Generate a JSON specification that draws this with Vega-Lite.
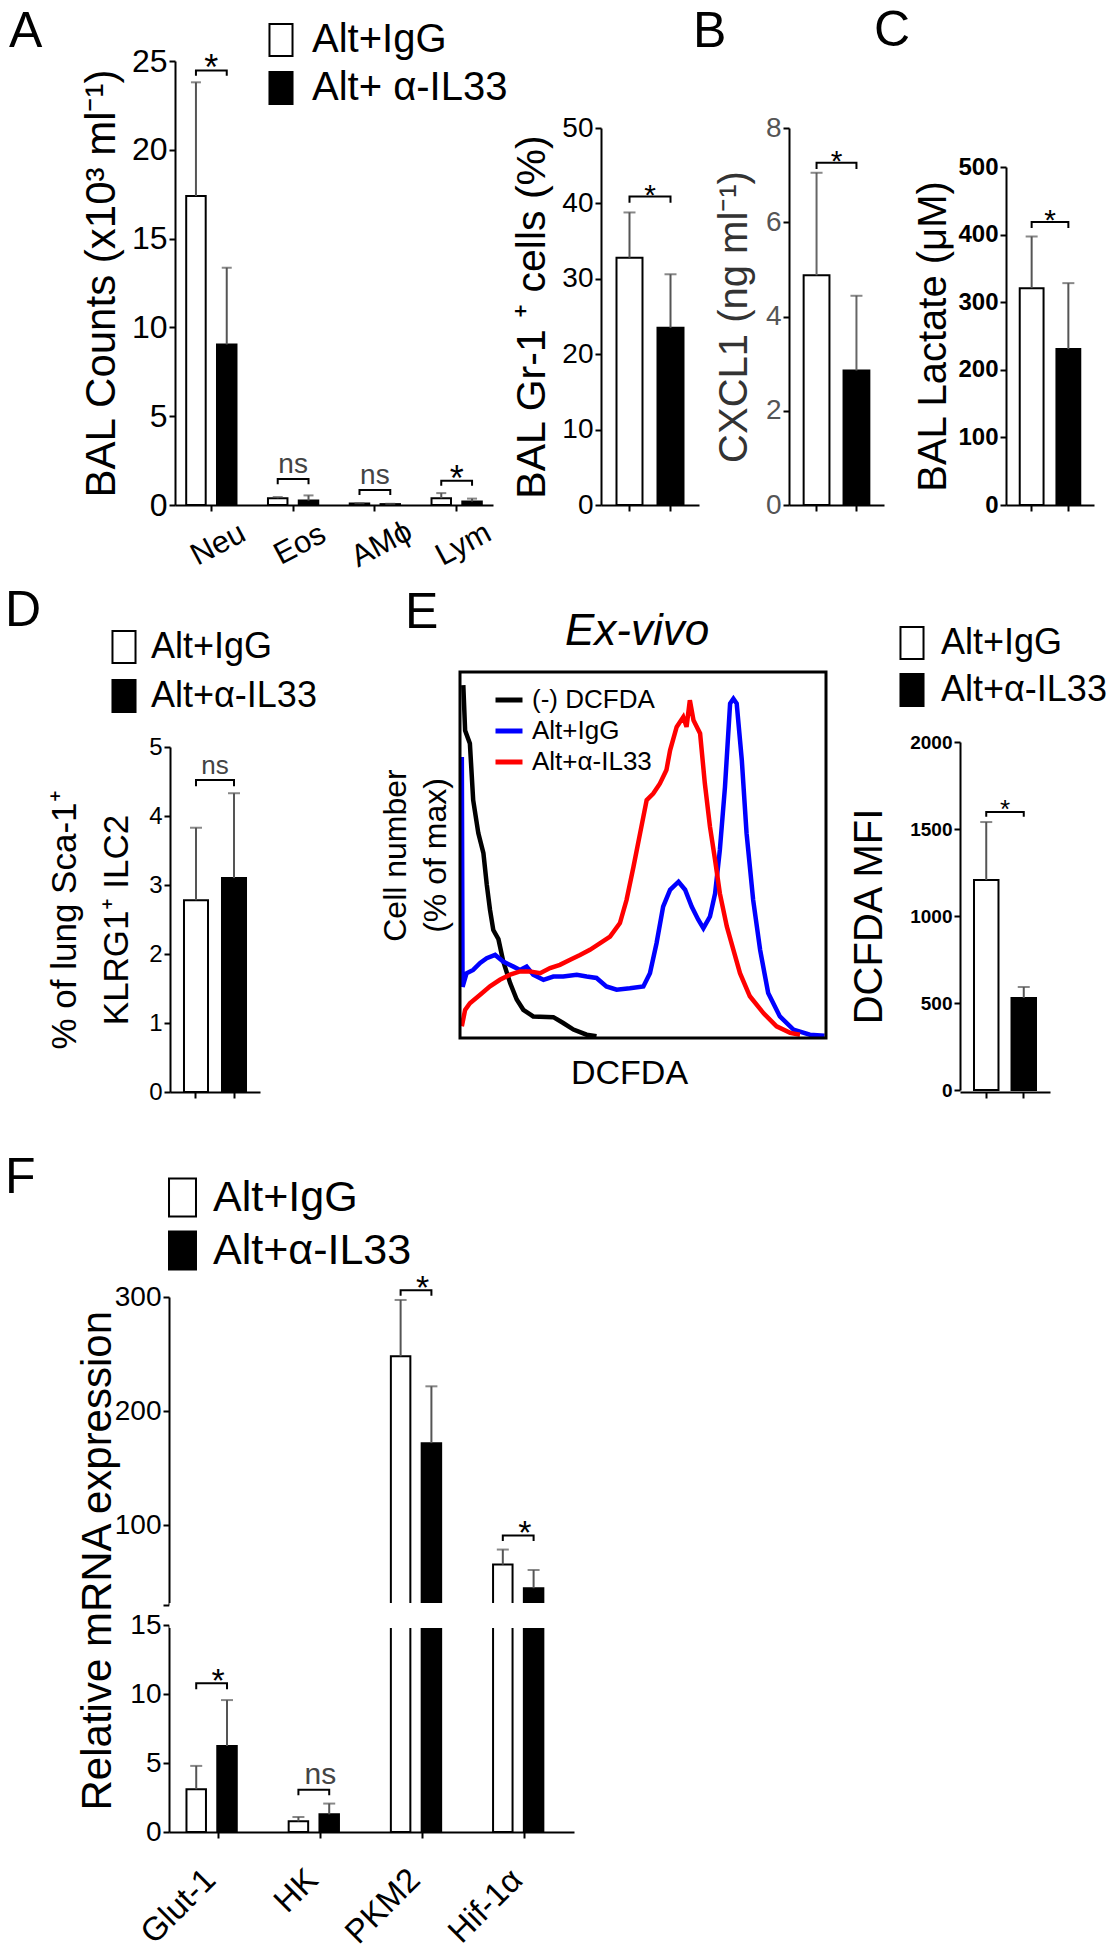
{
"$schema": "https://vega.github.io/schema/vega-lite/v6.json",
"padding": 0,
"background": "white",
"columns": 9,
"spacing": {"row": 20, "column": 0},
"bounds": "flush",
"align": "each",
"resolve": {"scale": {"fill": "independent", "stroke": "independent"}, "legend": {"fill": "independent", "stroke": "independent"}},
"config": {
  "font": "Liberation Sans",
  "view": {"stroke": null},
  "axis": {"domainColor": "black", "domainWidth": 2, "tickColor": "black", "tickWidth": 2, "tickSize": 6, "labelColor": "black", "titleColor": "black", "labelPadding": 2, "grid": false, "titleFontWeight": "normal", "labelFontWeight": "normal", "minExtent": 0},
  "legend": {"labelColor": "black"},
  "title": {"color": "black"}
},
"datasets": {
  "bars_A": [
    {"cat": "Neu", "grp": "Alt+IgG", "v": 17.4, "e": 23.8},
    {"cat": "Neu", "grp": "Alt+α-IL33", "v": 9.04, "e": 13.36},
    {"cat": "Eos", "grp": "Alt+IgG", "v": 0.38, "e": 0.45},
    {"cat": "Eos", "grp": "Alt+α-IL33", "v": 0.25, "e": 0.54},
    {"cat": "AMϕ", "grp": "Alt+IgG", "v": 0.08, "e": 0.1},
    {"cat": "AMϕ", "grp": "Alt+α-IL33", "v": 0.05, "e": 0.07},
    {"cat": "Lym", "grp": "Alt+IgG", "v": 0.38, "e": 0.67},
    {"cat": "Lym", "grp": "Alt+α-IL33", "v": 0.2, "e": 0.36}
  ],
  "br_A": [
    {"cat": "Neu", "grp": "Alt+IgG", "y": 24.17, "o": 1},
    {"cat": "Neu", "grp": "Alt+IgG", "y": 24.47, "o": 2},
    {"cat": "Neu", "grp": "Alt+α-IL33", "y": 24.47, "o": 3},
    {"cat": "Neu", "grp": "Alt+α-IL33", "y": 24.17, "o": 4},
    {"cat": "Eos", "grp": "Alt+IgG", "y": 1.17, "o": 1},
    {"cat": "Eos", "grp": "Alt+IgG", "y": 1.47, "o": 2},
    {"cat": "Eos", "grp": "Alt+α-IL33", "y": 1.47, "o": 3},
    {"cat": "Eos", "grp": "Alt+α-IL33", "y": 1.17, "o": 4},
    {"cat": "AMϕ", "grp": "Alt+IgG", "y": 0.56, "o": 1},
    {"cat": "AMϕ", "grp": "Alt+IgG", "y": 0.85, "o": 2},
    {"cat": "AMϕ", "grp": "Alt+α-IL33", "y": 0.85, "o": 3},
    {"cat": "AMϕ", "grp": "Alt+α-IL33", "y": 0.56, "o": 4},
    {"cat": "Lym", "grp": "Alt+IgG", "y": 1.09, "o": 1},
    {"cat": "Lym", "grp": "Alt+IgG", "y": 1.37, "o": 2},
    {"cat": "Lym", "grp": "Alt+α-IL33", "y": 1.37, "o": 3},
    {"cat": "Lym", "grp": "Alt+α-IL33", "y": 1.09, "o": 4}
  ],
  "sig_A": [
    {"cat": "Neu", "y": 24.47, "t": "*"},
    {"cat": "Eos", "y": 1.47, "t": "ns"},
    {"cat": "AMϕ", "y": 0.85, "t": "ns"},
    {"cat": "Lym", "y": 1.37, "t": "*"}
  ],
  "bars_B1": [{"grp": "Alt+IgG", "v": 32.8, "e": 38.8}, {"grp": "Alt+α-IL33", "v": 23.5, "e": 30.6}],
  "br_B1": [{"grp": "Alt+IgG", "y": 40.1, "o": 1}, {"grp": "Alt+IgG", "y": 40.9, "o": 2}, {"grp": "Alt+α-IL33", "y": 40.9, "o": 3}, {"grp": "Alt+α-IL33", "y": 40.1, "o": 4}],
  "sig_B1": [{"grp": "Alt+IgG", "y": 40.9, "t": "*"}],
  "bars_B2": [{"grp": "Alt+IgG", "v": 4.875, "e": 7.05}, {"grp": "Alt+α-IL33", "v": 2.855, "e": 4.44}],
  "br_B2": [{"grp": "Alt+IgG", "y": 7.13, "o": 1}, {"grp": "Alt+IgG", "y": 7.26, "o": 2}, {"grp": "Alt+α-IL33", "y": 7.26, "o": 3}, {"grp": "Alt+α-IL33", "y": 7.13, "o": 4}],
  "sig_B2": [{"grp": "Alt+IgG", "y": 7.26, "t": "*"}],
  "bars_C": [{"grp": "Alt+IgG", "v": 320.8, "e": 397.2}, {"grp": "Alt+α-IL33", "v": 230.6, "e": 328.2}],
  "br_C": [{"grp": "Alt+IgG", "y": 409.9, "o": 1}, {"grp": "Alt+IgG", "y": 418.5, "o": 2}, {"grp": "Alt+α-IL33", "y": 418.5, "o": 3}, {"grp": "Alt+α-IL33", "y": 409.9, "o": 4}],
  "sig_C": [{"grp": "Alt+IgG", "y": 418.5, "t": "*"}],
  "bars_D": [{"grp": "Alt+IgG", "v": 2.78, "e": 3.83}, {"grp": "Alt+α-IL33", "v": 3.1, "e": 4.33}],
  "br_D": [{"grp": "Alt+IgG", "y": 4.43, "o": 1}, {"grp": "Alt+IgG", "y": 4.52, "o": 2}, {"grp": "Alt+α-IL33", "y": 4.52, "o": 3}, {"grp": "Alt+α-IL33", "y": 4.43, "o": 4}],
  "sig_D": [{"grp": "Alt+IgG", "y": 4.52, "t": "ns"}],
  "bars_E": [{"grp": "Alt+IgG", "v": 1207, "e": 1540}, {"grp": "Alt+α-IL33", "v": 529, "e": 592}],
  "br_E": [{"grp": "Alt+IgG", "y": 1570, "o": 1}, {"grp": "Alt+IgG", "y": 1598, "o": 2}, {"grp": "Alt+α-IL33", "y": 1598, "o": 3}, {"grp": "Alt+α-IL33", "y": 1570, "o": 4}],
  "sig_E": [{"grp": "Alt+IgG", "y": 1598, "t": "*"}],
  "hist": [
    {"s": "(-) DCFDA", "x": 0.9, "y": 96.4}, {"s": "(-) DCFDA", "x": 1.4, "y": 84}, {"s": "(-) DCFDA", "x": 2.7, "y": 80.5}, {"s": "(-) DCFDA", "x": 3.6, "y": 65}, {"s": "(-) DCFDA", "x": 5, "y": 56}, {"s": "(-) DCFDA", "x": 6.4, "y": 50.5}, {"s": "(-) DCFDA", "x": 7.3, "y": 42}, {"s": "(-) DCFDA", "x": 8.2, "y": 35}, {"s": "(-) DCFDA", "x": 9.1, "y": 29.5}, {"s": "(-) DCFDA", "x": 10.5, "y": 27}, {"s": "(-) DCFDA", "x": 11.8, "y": 21}, {"s": "(-) DCFDA", "x": 13.7, "y": 15}, {"s": "(-) DCFDA", "x": 15.5, "y": 10.5}, {"s": "(-) DCFDA", "x": 17.3, "y": 7.7}, {"s": "(-) DCFDA", "x": 20, "y": 5.9}, {"s": "(-) DCFDA", "x": 25.5, "y": 5.7}, {"s": "(-) DCFDA", "x": 28.2, "y": 4.1}, {"s": "(-) DCFDA", "x": 31, "y": 2.3}, {"s": "(-) DCFDA", "x": 34.6, "y": 0.9}, {"s": "(-) DCFDA", "x": 37.3, "y": 0.5},
    {"s": "Alt+IgG", "x": 0.5, "y": 76.8}, {"s": "Alt+IgG", "x": 0.7, "y": 14}, {"s": "Alt+IgG", "x": 1.8, "y": 17.7}, {"s": "Alt+IgG", "x": 3.6, "y": 18.6}, {"s": "Alt+IgG", "x": 5.5, "y": 20.5}, {"s": "Alt+IgG", "x": 7.3, "y": 21.8}, {"s": "Alt+IgG", "x": 9.6, "y": 22.7}, {"s": "Alt+IgG", "x": 11.8, "y": 20.9}, {"s": "Alt+IgG", "x": 14.6, "y": 19.5}, {"s": "Alt+IgG", "x": 16.4, "y": 18.6}, {"s": "Alt+IgG", "x": 18.2, "y": 19.5}, {"s": "Alt+IgG", "x": 20, "y": 17.3}, {"s": "Alt+IgG", "x": 22.8, "y": 15.9}, {"s": "Alt+IgG", "x": 25.5, "y": 16.8}, {"s": "Alt+IgG", "x": 28.2, "y": 16.8}, {"s": "Alt+IgG", "x": 31.9, "y": 17.3}, {"s": "Alt+IgG", "x": 34.6, "y": 16.8}, {"s": "Alt+IgG", "x": 37.3, "y": 16.4}, {"s": "Alt+IgG", "x": 40, "y": 14.1}, {"s": "Alt+IgG", "x": 42.8, "y": 13.2}, {"s": "Alt+IgG", "x": 46.4, "y": 13.6}, {"s": "Alt+IgG", "x": 50.1, "y": 14.1}, {"s": "Alt+IgG", "x": 51.9, "y": 17.7}, {"s": "Alt+IgG", "x": 53.7, "y": 25.9}, {"s": "Alt+IgG", "x": 55.5, "y": 35.9}, {"s": "Alt+IgG", "x": 57.4, "y": 40.5}, {"s": "Alt+IgG", "x": 59.7, "y": 42.7}, {"s": "Alt+IgG", "x": 61.5, "y": 40.5}, {"s": "Alt+IgG", "x": 63.3, "y": 35.9}, {"s": "Alt+IgG", "x": 65.1, "y": 32.3}, {"s": "Alt+IgG", "x": 66.5, "y": 30}, {"s": "Alt+IgG", "x": 68.3, "y": 33.2}, {"s": "Alt+IgG", "x": 69.7, "y": 39.5}, {"s": "Alt+IgG", "x": 71, "y": 51.4}, {"s": "Alt+IgG", "x": 72.4, "y": 68.6}, {"s": "Alt+IgG", "x": 73.8, "y": 91.4}, {"s": "Alt+IgG", "x": 74.7, "y": 92.7}, {"s": "Alt+IgG", "x": 75.6, "y": 91.4}, {"s": "Alt+IgG", "x": 77, "y": 75.9}, {"s": "Alt+IgG", "x": 78.3, "y": 55.9}, {"s": "Alt+IgG", "x": 80.1, "y": 37.7}, {"s": "Alt+IgG", "x": 82, "y": 24.1}, {"s": "Alt+IgG", "x": 84.2, "y": 12.3}, {"s": "Alt+IgG", "x": 87.4, "y": 5.9}, {"s": "Alt+IgG", "x": 91.1, "y": 2.3}, {"s": "Alt+IgG", "x": 95.6, "y": 0.9}, {"s": "Alt+IgG", "x": 99.6, "y": 0.6},
    {"s": "Alt+α-IL33", "x": 0.5, "y": 3.2}, {"s": "Alt+α-IL33", "x": 1.4, "y": 7.7}, {"s": "Alt+α-IL33", "x": 2.7, "y": 9.5}, {"s": "Alt+α-IL33", "x": 5.5, "y": 11.8}, {"s": "Alt+α-IL33", "x": 8.2, "y": 14.1}, {"s": "Alt+α-IL33", "x": 10.9, "y": 15.9}, {"s": "Alt+α-IL33", "x": 13.7, "y": 17.3}, {"s": "Alt+α-IL33", "x": 16.4, "y": 18.2}, {"s": "Alt+α-IL33", "x": 19.1, "y": 18.2}, {"s": "Alt+α-IL33", "x": 21.9, "y": 17.7}, {"s": "Alt+α-IL33", "x": 24.6, "y": 19.1}, {"s": "Alt+α-IL33", "x": 27.3, "y": 20}, {"s": "Alt+α-IL33", "x": 30.1, "y": 21.4}, {"s": "Alt+α-IL33", "x": 32.8, "y": 22.7}, {"s": "Alt+α-IL33", "x": 35.5, "y": 24.1}, {"s": "Alt+α-IL33", "x": 38.3, "y": 25.9}, {"s": "Alt+α-IL33", "x": 41, "y": 27.7}, {"s": "Alt+α-IL33", "x": 43.7, "y": 31.4}, {"s": "Alt+α-IL33", "x": 45.5, "y": 37.7}, {"s": "Alt+α-IL33", "x": 47.4, "y": 46.8}, {"s": "Alt+α-IL33", "x": 49.2, "y": 55.9}, {"s": "Alt+α-IL33", "x": 51, "y": 65}, {"s": "Alt+α-IL33", "x": 52.8, "y": 66.8}, {"s": "Alt+α-IL33", "x": 54.6, "y": 69.5}, {"s": "Alt+α-IL33", "x": 56.4, "y": 73.2}, {"s": "Alt+α-IL33", "x": 57.4, "y": 78.6}, {"s": "Alt+α-IL33", "x": 59.2, "y": 85}, {"s": "Alt+α-IL33", "x": 61, "y": 87.7}, {"s": "Alt+α-IL33", "x": 61.9, "y": 85}, {"s": "Alt+α-IL33", "x": 62.8, "y": 92.3}, {"s": "Alt+α-IL33", "x": 63.8, "y": 86.8}, {"s": "Alt+α-IL33", "x": 65.6, "y": 83.2}, {"s": "Alt+α-IL33", "x": 66.9, "y": 69.5}, {"s": "Alt+α-IL33", "x": 68.3, "y": 57.7}, {"s": "Alt+α-IL33", "x": 69.7, "y": 48.6}, {"s": "Alt+α-IL33", "x": 71, "y": 39.5}, {"s": "Alt+α-IL33", "x": 72.9, "y": 30.5}, {"s": "Alt+α-IL33", "x": 74.7, "y": 24.1}, {"s": "Alt+α-IL33", "x": 76.5, "y": 17.7}, {"s": "Alt+α-IL33", "x": 79.2, "y": 11.4}, {"s": "Alt+α-IL33", "x": 82.9, "y": 6.8}, {"s": "Alt+α-IL33", "x": 86.5, "y": 3.2}, {"s": "Alt+α-IL33", "x": 90.2, "y": 1.4}, {"s": "Alt+α-IL33", "x": 92.9, "y": 0.9}
  ],
  "bars_F": [
    {"cat": "Glut-1", "grp": "Alt+IgG", "v": 3.1, "e": 4.79},
    {"cat": "Glut-1", "grp": "Alt+α-IL33", "v": 6.24, "e": 9.56},
    {"cat": "HK", "grp": "Alt+IgG", "v": 0.77, "e": 1.09},
    {"cat": "HK", "grp": "Alt+α-IL33", "v": 1.28, "e": 2.06},
    {"cat": "PKM2", "grp": "Alt+IgG", "v": 248, "e": 297.4},
    {"cat": "PKM2", "grp": "Alt+α-IL33", "v": 171.9, "e": 221.7},
    {"cat": "Hif-1α", "grp": "Alt+IgG", "v": 65.4, "e": 78.6},
    {"cat": "Hif-1α", "grp": "Alt+α-IL33", "v": 44.7, "e": 60.7}
  ],
  "br_Fl": [
    {"cat": "Glut-1", "grp": "Alt+IgG", "y": 10.35, "o": 1}, {"cat": "Glut-1", "grp": "Alt+IgG", "y": 10.77, "o": 2}, {"cat": "Glut-1", "grp": "Alt+α-IL33", "y": 10.77, "o": 3}, {"cat": "Glut-1", "grp": "Alt+α-IL33", "y": 10.35, "o": 4},
    {"cat": "HK", "grp": "Alt+IgG", "y": 2.66, "o": 1}, {"cat": "HK", "grp": "Alt+IgG", "y": 3.07, "o": 2}, {"cat": "HK", "grp": "Alt+α-IL33", "y": 3.07, "o": 3}, {"cat": "HK", "grp": "Alt+α-IL33", "y": 2.66, "o": 4}
  ],
  "br_Fu": [
    {"cat": "PKM2", "grp": "Alt+IgG", "y": 301, "o": 1}, {"cat": "PKM2", "grp": "Alt+IgG", "y": 306, "o": 2}, {"cat": "PKM2", "grp": "Alt+α-IL33", "y": 306, "o": 3}, {"cat": "PKM2", "grp": "Alt+α-IL33", "y": 301, "o": 4},
    {"cat": "Hif-1α", "grp": "Alt+IgG", "y": 86, "o": 1}, {"cat": "Hif-1α", "grp": "Alt+IgG", "y": 91, "o": 2}, {"cat": "Hif-1α", "grp": "Alt+α-IL33", "y": 91, "o": 3}, {"cat": "Hif-1α", "grp": "Alt+α-IL33", "y": 86, "o": 4}
  ],
  "sig_Fl": [{"cat": "Glut-1", "y": 10.77, "t": "*"}, {"cat": "HK", "y": 3.07, "t": "ns"}],
  "sig_Fu": [{"cat": "PKM2", "y": 306, "t": "*"}, {"cat": "Hif-1α", "y": 91, "t": "*"}]
},
"concat": [
  {"width": 169, "height": 41, "data": {"values": []}, "mark": "point"},
  {"width": 1, "height": 1, "data": {"values": []}, "mark": "point"},
  {"width": 5, "height": 1, "data": {"values": []}, "mark": "point"},
  {"width": 285, "height": 1, "data": {"values": []}, "mark": "point"},
  {"width": 141, "height": 1, "data": {"values": []}, "mark": "point"},
  {"width": 188, "height": 1, "data": {"values": []}, "mark": "point"},
  {"width": 171, "height": 1, "data": {"values": []}, "mark": "point"},
  {"width": 46, "height": 1, "data": {"values": []}, "mark": "point"},
  {"width": 88, "height": 1, "data": {"values": []}, "mark": "point"},

  {"width": 1, "height": 591, "data": {"values": []}, "mark": "point",
   "title": {"text": "A", "anchor": "start", "frame": "group", "dx": 9, "offset": -36, "fontSize": 50, "fontWeight": "normal", "baseline": "alphabetic"}},
  {"width": 1, "height": 1, "data": {"values": []}, "mark": "point"},
  {"width": 1, "height": 1, "data": {"values": []}, "mark": "point"},
  {
    "width": 285, "height": 444,
    "layer": [
      {"data": {"name": "bars_A"}, "mark": {"type": "bar", "stroke": "black", "strokeWidth": 2},
       "encoding": {
         "x": {"field": "cat", "type": "nominal", "scale": {"domain": ["Neu", "Eos", "AMϕ", "Lym"], "range": [0, 318], "paddingInner": 0.385, "paddingOuter": 0.137},
               "axis": {"title": null, "labelAngle": -28, "labelAlign": "center", "labelBaseline": "top", "labelFontSize": 31, "labelPadding": 20}},
         "xOffset": {"field": "grp", "type": "nominal", "scale": {"domain": ["Alt+IgG", "Alt+α-IL33"], "paddingInner": 0.367, "paddingOuter": 0}},
         "y": {"field": "v", "type": "quantitative", "scale": {"domain": [0, 25], "range": [444, 0], "nice": false},
               "axis": {"values": [0, 5, 10, 15, 20, 25], "format": "d", "title": "BAL Counts (x10³ ml⁻¹)", "titleFontSize": 42, "labelFontSize": 32, "titlePadding": 8}},
         "fill": {"field": "grp", "type": "nominal", "scale": {"domain": ["Alt+IgG", "Alt+α-IL33"], "range": ["white", "black"]},
                  "legend": {"orient": "none", "legendX": 86, "legendY": -41, "title": null, "padding": 0, "labelFontSize": 40, "labelLimit": 400, "symbolType": "M-0.72,-1H0.72V1H-0.72Z", "symbolSize": 1024, "symbolStrokeColor": "black", "symbolStrokeWidth": 2, "rowPadding": 8, "labelOffset": 11, "labelExpr": "datum.label == 'Alt+α-IL33' ? 'Alt+ α-IL33' : datum.label"}}
       }},
      {"data": {"name": "bars_A"}, "mark": {"type": "rule", "color": "#555", "strokeWidth": 2},
       "encoding": {"x": {"field": "cat", "type": "nominal"}, "xOffset": {"field": "grp", "type": "nominal"}, "y": {"field": "v", "type": "quantitative"}, "y2": {"field": "e"}}},
      {"data": {"name": "bars_A"}, "mark": {"type": "tick", "color": "#555", "thickness": 2, "size": 10},
       "encoding": {"x": {"field": "cat", "type": "nominal"}, "xOffset": {"field": "grp", "type": "nominal"}, "y": {"field": "e", "type": "quantitative"}}},
      {"data": {"name": "br_A"}, "mark": {"type": "line", "color": "black", "strokeWidth": 2},
       "encoding": {"x": {"field": "cat", "type": "nominal"}, "xOffset": {"field": "grp", "type": "nominal"}, "y": {"field": "y", "type": "quantitative"}, "detail": {"field": "cat"}, "order": {"field": "o"}}},
      {"data": {"name": "sig_A"}, "transform": [{"filter": "datum.t == '*'"}], "mark": {"type": "text", "fontSize": 36, "dy": 10, "baseline": "alphabetic", "color": "black"},
       "encoding": {"x": {"field": "cat", "type": "nominal"}, "y": {"field": "y", "type": "quantitative"}, "text": {"field": "t"}}},
      {"data": {"name": "sig_A"}, "transform": [{"filter": "datum.t == 'ns'"}], "mark": {"type": "text", "fontSize": 28, "dy": -6, "baseline": "alphabetic", "color": "#444"},
       "encoding": {"x": {"field": "cat", "type": "nominal"}, "y": {"field": "y", "type": "quantitative"}, "text": {"field": "t"}}}
    ]
  },
  {"width": 1, "height": 1, "data": {"values": []}, "mark": "point",
   "title": {"text": "B", "anchor": "start", "frame": "group", "dx": 233, "offset": -36, "fontSize": 50, "fontWeight": "normal", "baseline": "alphabetic"}},
  {
    "width": 188, "height": 444,
    "layer": [
      {"data": {"name": "bars_B1"}, "mark": {"type": "bar", "stroke": "black", "strokeWidth": 2},
       "encoding": {
         "x": {"field": "grp", "type": "nominal", "scale": {"domain": ["Alt+IgG", "Alt+α-IL33"], "range": [0, 98], "paddingInner": 0.366, "paddingOuter": 0.378}, "axis": {"labels": false, "title": null}},
         "y": {"field": "v", "type": "quantitative", "scale": {"domain": [0, 50], "range": [444, 67], "nice": false}, "axis": {"values": [0, 10, 20, 30, 40, 50], "format": "d", "title": "BAL Gr-1 ⁺ cells (%)", "titleFontSize": 41, "labelFontSize": 28, "titlePadding": 8}},
         "fill": {"field": "grp", "type": "nominal", "scale": {"domain": ["Alt+IgG", "Alt+α-IL33"], "range": ["white", "black"]}, "legend": null}
       }},
      {"data": {"name": "bars_B1"}, "mark": {"type": "rule", "color": "#555", "strokeWidth": 2},
       "encoding": {"x": {"field": "grp", "type": "nominal"}, "y": {"field": "v", "type": "quantitative"}, "y2": {"field": "e"}}},
      {"data": {"name": "bars_B1"}, "mark": {"type": "tick", "color": "#555", "thickness": 2, "size": 12},
       "encoding": {"x": {"field": "grp", "type": "nominal"}, "y": {"field": "e", "type": "quantitative"}}},
      {"data": {"name": "br_B1"}, "mark": {"type": "line", "color": "black", "strokeWidth": 2},
       "encoding": {"x": {"field": "grp", "type": "nominal"}, "y": {"field": "y", "type": "quantitative"}, "order": {"field": "o"}}},
      {"data": {"name": "sig_B1"}, "mark": {"type": "text", "fontSize": 30, "dx": 20.5, "dy": 8, "baseline": "alphabetic", "color": "black"},
       "encoding": {"x": {"field": "grp", "type": "nominal"}, "y": {"field": "y", "type": "quantitative"}, "text": {"field": "t"}}}
    ]
  },
  {
    "width": 171, "height": 444,
    "layer": [
      {"data": {"name": "bars_B2"}, "mark": {"type": "bar", "stroke": "black", "strokeWidth": 2},
       "encoding": {
         "x": {"field": "grp", "type": "nominal", "scale": {"domain": ["Alt+IgG", "Alt+α-IL33"], "range": [0, 95], "paddingInner": 0.353, "paddingOuter": 0.367}, "axis": {"labels": false, "title": null}},
         "y": {"field": "v", "type": "quantitative", "scale": {"domain": [0, 8], "range": [444, 67], "nice": false}, "axis": {"values": [0, 2, 4, 6, 8], "format": "d", "title": "CXCL1 (ng ml⁻¹)", "titleFontSize": 40, "labelFontSize": 28, "titlePadding": 11, "labelColor": "#555", "titleColor": "#333"}},
         "fill": {"field": "grp", "type": "nominal", "scale": {"domain": ["Alt+IgG", "Alt+α-IL33"], "range": ["white", "black"]}, "legend": null}
       }},
      {"data": {"name": "bars_B2"}, "mark": {"type": "rule", "color": "#666", "strokeWidth": 2},
       "encoding": {"x": {"field": "grp", "type": "nominal"}, "y": {"field": "v", "type": "quantitative"}, "y2": {"field": "e"}}},
      {"data": {"name": "bars_B2"}, "mark": {"type": "tick", "color": "#555", "thickness": 2, "size": 12},
       "encoding": {"x": {"field": "grp", "type": "nominal"}, "y": {"field": "e", "type": "quantitative"}}},
      {"data": {"name": "br_B2"}, "mark": {"type": "line", "color": "black", "strokeWidth": 2},
       "encoding": {"x": {"field": "grp", "type": "nominal"}, "y": {"field": "y", "type": "quantitative"}, "order": {"field": "o"}}},
      {"data": {"name": "sig_B2"}, "mark": {"type": "text", "fontSize": 30, "dx": 20, "dy": 8, "baseline": "alphabetic", "color": "black"},
       "encoding": {"x": {"field": "grp", "type": "nominal"}, "y": {"field": "y", "type": "quantitative"}, "text": {"field": "t"}}}
    ]
  },
  {"width": 1, "height": 1, "data": {"values": []}, "mark": "point",
   "title": {"text": "C", "anchor": "start", "frame": "group", "dx": -86, "offset": -35, "fontSize": 50, "fontWeight": "normal", "baseline": "alphabetic"}},
  {
    "width": 88, "height": 444,
    "layer": [
      {"data": {"name": "bars_C"}, "mark": {"type": "bar", "stroke": "black", "strokeWidth": 2},
       "encoding": {
         "x": {"field": "grp", "type": "nominal", "scale": {"domain": ["Alt+IgG", "Alt+α-IL33"], "range": [0, 88], "paddingInner": 0.351, "paddingOuter": 0.374}, "axis": {"labels": false, "title": null}},
         "y": {"field": "v", "type": "quantitative", "scale": {"domain": [0, 500], "range": [444, 106], "nice": false}, "axis": {"values": [0, 100, 200, 300, 400, 500], "format": "d", "title": "BAL Lactate (μM)", "titleFontSize": 40, "labelFontSize": 24, "labelFontWeight": "bold", "titlePadding": 4}},
         "fill": {"field": "grp", "type": "nominal", "scale": {"domain": ["Alt+IgG", "Alt+α-IL33"], "range": ["white", "black"]}, "legend": null}
       }},
      {"data": {"name": "bars_C"}, "mark": {"type": "rule", "color": "#555", "strokeWidth": 2},
       "encoding": {"x": {"field": "grp", "type": "nominal"}, "y": {"field": "v", "type": "quantitative"}, "y2": {"field": "e"}}},
      {"data": {"name": "bars_C"}, "mark": {"type": "tick", "color": "#555", "thickness": 2, "size": 12},
       "encoding": {"x": {"field": "grp", "type": "nominal"}, "y": {"field": "e", "type": "quantitative"}}},
      {"data": {"name": "br_C"}, "mark": {"type": "line", "color": "black", "strokeWidth": 2},
       "encoding": {"x": {"field": "grp", "type": "nominal"}, "y": {"field": "y", "type": "quantitative"}, "order": {"field": "o"}}},
      {"data": {"name": "sig_C"}, "mark": {"type": "text", "fontSize": 30, "dx": 18.4, "dy": 8, "baseline": "alphabetic", "color": "black"},
       "encoding": {"x": {"field": "grp", "type": "nominal"}, "y": {"field": "y", "type": "quantitative"}, "text": {"field": "t"}}}
    ]
  },

  {"width": 1, "height": 605, "data": {"values": []}, "mark": "point",
   "title": {"text": "D", "anchor": "start", "frame": "group", "dx": 5, "offset": -4, "fontSize": 50, "fontWeight": "normal", "baseline": "alphabetic"}},
  {"width": 1, "height": 1, "data": {"values": []}, "mark": "point"},
  {
    "width": 5, "height": 420,
    "layer": [
      {"data": {"name": "bars_D"}, "mark": {"type": "bar", "stroke": "black", "strokeWidth": 2},
       "encoding": {
         "x": {"field": "grp", "type": "nominal", "scale": {"domain": ["Alt+IgG", "Alt+α-IL33"], "range": [0, 90], "paddingInner": 0.368, "paddingOuter": 0.368}, "axis": {"labels": false, "title": null}},
         "y": {"field": "v", "type": "quantitative", "scale": {"domain": [0, 5], "range": [420, 75], "nice": false}, "axis": {"values": [0, 1, 2, 3, 4, 5], "format": "d", "title": ["% of lung Sca-1⁺", "KLRG1⁺ ILC2"], "titleFontSize": 35, "titleLineHeight": 52, "labelFontSize": 24, "titlePadding": 14}},
         "fill": {"field": "grp", "type": "nominal", "scale": {"domain": ["Alt+IgG", "Alt+α-IL33"], "range": ["white", "black"]},
                  "legend": {"orient": "none", "legendX": -64, "legendY": -43, "title": null, "padding": 0, "labelFontSize": 36, "labelLimit": 400, "symbolType": "M-0.72,-1H0.72V1H-0.72Z", "symbolSize": 1024, "symbolStrokeColor": "black", "symbolStrokeWidth": 2, "rowPadding": 9, "labelOffset": 9}}
       }},
      {"data": {"name": "bars_D"}, "mark": {"type": "rule", "color": "#555", "strokeWidth": 2},
       "encoding": {"x": {"field": "grp", "type": "nominal"}, "y": {"field": "v", "type": "quantitative"}, "y2": {"field": "e"}}},
      {"data": {"name": "bars_D"}, "mark": {"type": "tick", "color": "#555", "thickness": 2, "size": 12},
       "encoding": {"x": {"field": "grp", "type": "nominal"}, "y": {"field": "e", "type": "quantitative"}}},
      {"data": {"name": "br_D"}, "mark": {"type": "line", "color": "black", "strokeWidth": 2},
       "encoding": {"x": {"field": "grp", "type": "nominal"}, "y": {"field": "y", "type": "quantitative"}, "order": {"field": "o"}}},
      {"data": {"name": "sig_D"}, "mark": {"type": "text", "fontSize": 26, "dx": 19, "dy": -6, "baseline": "alphabetic", "color": "#444"},
       "encoding": {"x": {"field": "grp", "type": "nominal"}, "y": {"field": "y", "type": "quantitative"}, "text": {"field": "t"}}}
    ]
  },
  {"width": 1, "height": 1, "data": {"values": []}, "mark": "point",
   "title": {"text": "E", "anchor": "start", "frame": "group", "dx": 230, "offset": -6, "fontSize": 50, "fontWeight": "normal", "baseline": "alphabetic"}},
  {
    "width": 141, "height": 366,
    "title": {"text": "Ex-vivo", "anchor": "start", "frame": "group", "dx": 105, "offset": -18, "fontSize": 44, "fontStyle": "italic", "fontWeight": "normal", "baseline": "alphabetic"},
    "layer": [
      {"data": {"name": "hist"}, "mark": {"type": "line", "strokeWidth": 4.5},
       "encoding": {
         "x": {"field": "x", "type": "quantitative", "scale": {"domain": [0, 100], "range": [0, 366], "nice": false, "zero": false},
               "axis": {"title": "DCFDA", "labels": false, "ticks": false, "domain": false, "titleFontSize": 34, "titlePadding": 18, "titleX": 169}},
         "y": {"field": "y", "type": "quantitative", "scale": {"domain": [0, 100], "nice": false},
               "axis": {"title": ["Cell number", "(% of max)"], "labels": false, "ticks": false, "domain": false, "titleFontSize": 32, "titleLineHeight": 40, "titlePadding": 8}},
         "stroke": {"field": "s", "type": "nominal", "scale": {"domain": ["(-) DCFDA", "Alt+IgG", "Alt+α-IL33"], "range": ["black", "#0000ff", "#ff0000"]},
                    "legend": {"orient": "none", "legendX": 33, "legendY": 12, "title": null, "padding": 0, "labelFontSize": 26, "labelLimit": 400, "symbolType": "stroke", "symbolSize": 729, "symbolStrokeWidth": 5, "rowPadding": 2, "labelOffset": 7}}
       }},
      {"data": {"values": [{}]}, "mark": {"type": "rect", "filled": false, "stroke": "black", "strokeWidth": 3},
       "encoding": {"x": {"datum": 0}, "x2": {"datum": 100}, "y": {"datum": 0}, "y2": {"datum": 100}}}
    ]
  },
  {"width": 1, "height": 1, "data": {"values": []}, "mark": "point"},
  {"width": 1, "height": 1, "data": {"values": []}, "mark": "point"},
  {
    "width": 46, "height": 420,
    "layer": [
      {"data": {"name": "bars_E"}, "mark": {"type": "bar", "stroke": "black", "strokeWidth": 2},
       "encoding": {
         "x": {"field": "grp", "type": "nominal", "scale": {"domain": ["Alt+IgG", "Alt+α-IL33"], "range": [0, 90], "paddingInner": 0.347, "paddingOuter": 0.373}, "axis": {"labels": false, "title": null}},
         "y": {"field": "v", "type": "quantitative", "scale": {"domain": [0, 2000], "range": [418, 70], "nice": false}, "axis": {"values": [0, 500, 1000, 1500, 2000], "format": "d", "title": "DCFDA MFI", "titleFontSize": 40, "labelFontSize": 19, "labelFontWeight": "bold", "titlePadding": 20}},
         "fill": {"field": "grp", "type": "nominal", "scale": {"domain": ["Alt+IgG", "Alt+α-IL33"], "range": ["white", "black"]},
                  "legend": {"orient": "none", "legendX": -66, "legendY": -47, "title": null, "padding": 0, "labelFontSize": 36, "labelLimit": 400, "symbolType": "M-0.72,-1H0.72V1H-0.72Z", "symbolSize": 1024, "symbolStrokeColor": "black", "symbolStrokeWidth": 2, "rowPadding": 7, "labelOffset": 11}}
       }},
      {"data": {"name": "bars_E"}, "mark": {"type": "rule", "color": "#555", "strokeWidth": 2},
       "encoding": {"x": {"field": "grp", "type": "nominal"}, "y": {"field": "v", "type": "quantitative"}, "y2": {"field": "e"}}},
      {"data": {"name": "bars_E"}, "mark": {"type": "tick", "color": "#555", "thickness": 2, "size": 12},
       "encoding": {"x": {"field": "grp", "type": "nominal"}, "y": {"field": "e", "type": "quantitative"}}},
      {"data": {"name": "br_E"}, "mark": {"type": "line", "color": "black", "strokeWidth": 2},
       "encoding": {"x": {"field": "grp", "type": "nominal"}, "y": {"field": "y", "type": "quantitative"}, "order": {"field": "o"}}},
      {"data": {"name": "sig_E"}, "mark": {"type": "text", "fontSize": 26, "dx": 18.8, "dy": 6, "baseline": "alphabetic", "color": "black"},
       "encoding": {"x": {"field": "grp", "type": "nominal"}, "y": {"field": "y", "type": "quantitative"}, "text": {"field": "t"}}}
    ]
  },
  {"width": 1, "height": 1, "data": {"values": []}, "mark": "point"},

  {"width": 1, "height": 1, "data": {"values": []}, "mark": "point",
   "title": {"text": "F", "anchor": "start", "frame": "group", "dx": 5, "offset": 54, "fontSize": 50, "fontWeight": "normal", "baseline": "alphabetic"}},
  {
    "width": 1, "height": 308,
    "layer": [
      {"data": {"name": "bars_F"}, "transform": [{"filter": "datum.v >= 30"}], "mark": {"type": "bar", "stroke": "black", "strokeWidth": 2},
       "encoding": {
         "x": {"field": "cat", "type": "nominal", "scale": {"domain": ["Glut-1", "HK", "PKM2", "Hif-1α"], "range": [0, 405], "paddingInner": 0.379, "paddingOuter": 0.171},
               "axis": {"title": null, "labels": false, "ticks": false, "domainColor": "white", "domainWidth": 5, "zindex": 1}},
         "xOffset": {"field": "grp", "type": "nominal", "scale": {"domain": ["Alt+IgG", "Alt+α-IL33"], "paddingInner": 0.351, "paddingOuter": 0}},
         "y": {"field": "v", "type": "quantitative", "scale": {"domain": [30, 300], "nice": false, "zero": false},
               "axis": {"values": [30, 100, 200, 300], "labelExpr": "datum.value < 50 ? '' : datum.label", "title": null, "labelFontSize": 28}},
         "y2": {"datum": 30},
         "fill": {"field": "grp", "type": "nominal", "scale": {"domain": ["Alt+IgG", "Alt+α-IL33"], "range": ["white", "black"]},
                  "legend": {"orient": "none", "legendX": -8, "legendY": -121, "title": null, "padding": 0, "labelFontSize": 43, "labelLimit": 400, "symbolType": "M-0.71,-1H0.71V1H-0.71Z", "symbolSize": 1444, "symbolStrokeColor": "black", "symbolStrokeWidth": 2, "rowPadding": 6, "labelOffset": 9}}
       }},
      {"data": {"name": "bars_F"}, "transform": [{"filter": "datum.v >= 30"}], "mark": {"type": "rule", "color": "#555", "strokeWidth": 2},
       "encoding": {"x": {"field": "cat", "type": "nominal"}, "xOffset": {"field": "grp", "type": "nominal"}, "y": {"field": "v", "type": "quantitative"}, "y2": {"field": "e"}}},
      {"data": {"name": "bars_F"}, "transform": [{"filter": "datum.e >= 30"}], "mark": {"type": "tick", "color": "#555", "thickness": 2, "size": 12},
       "encoding": {"x": {"field": "cat", "type": "nominal"}, "xOffset": {"field": "grp", "type": "nominal"}, "y": {"field": "e", "type": "quantitative"}}},
      {"data": {"name": "br_Fu"}, "mark": {"type": "line", "color": "black", "strokeWidth": 2},
       "encoding": {"x": {"field": "cat", "type": "nominal"}, "xOffset": {"field": "grp", "type": "nominal"}, "y": {"field": "y", "type": "quantitative"}, "detail": {"field": "cat"}, "order": {"field": "o"}}},
      {"data": {"name": "sig_Fu"}, "mark": {"type": "text", "fontSize": 34, "dy": 9, "baseline": "alphabetic", "color": "black"},
       "encoding": {"x": {"field": "cat", "type": "nominal"}, "y": {"field": "y", "type": "quantitative"}, "text": {"field": "t"}}}
    ]
  },
  {"width": 1, "height": 1, "data": {"values": []}, "mark": "point"},
  {"width": 1, "height": 1, "data": {"values": []}, "mark": "point"},
  {"width": 1, "height": 1, "data": {"values": []}, "mark": "point"},
  {"width": 1, "height": 1, "data": {"values": []}, "mark": "point"},
  {"width": 1, "height": 1, "data": {"values": []}, "mark": "point"},
  {"width": 1, "height": 1, "data": {"values": []}, "mark": "point"},
  {"width": 1, "height": 1, "data": {"values": []}, "mark": "point"},

  {"width": 1, "height": 1, "data": {"values": []}, "mark": "point"},
  {
    "width": 1, "height": 207,
    "resolve": {"axis": {"x": "independent"}},
    "layer": [
      {"data": {"name": "bars_F"}, "mark": {"type": "bar", "stroke": "black", "strokeWidth": 2},
       "encoding": {
         "x": {"field": "cat", "type": "nominal", "scale": {"domain": ["Glut-1", "HK", "PKM2", "Hif-1α"], "range": [0, 405], "paddingInner": 0.379, "paddingOuter": 0.171},
               "axis": {"title": null, "labelAngle": -45, "labelAlign": "right", "labelBaseline": "top", "labelFontSize": 33, "labelPadding": 25, "labelOffset": -19}},
         "xOffset": {"field": "grp", "type": "nominal", "scale": {"domain": ["Alt+IgG", "Alt+α-IL33"], "paddingInner": 0.351, "paddingOuter": 0}},
         "y": {"field": "v", "type": "quantitative", "scale": {"domain": [0, 15], "nice": false, "clamp": true},
               "axis": {"values": [0, 5, 10, 15], "format": "d", "title": "Relative mRNA expression", "titleFontSize": 42, "labelFontSize": 28, "titlePadding": 10, "titleY": 185, "titleAlign": "left"}},
         "fill": {"field": "grp", "type": "nominal", "scale": {"domain": ["Alt+IgG", "Alt+α-IL33"], "range": ["white", "black"]}, "legend": null}
       }},
      {"data": {"name": "bars_F"}, "mark": {"type": "rule", "color": "#555", "strokeWidth": 2},
       "encoding": {"x": {"field": "cat", "type": "nominal", "axis": null}, "xOffset": {"field": "grp", "type": "nominal"}, "y": {"field": "v", "type": "quantitative"}, "y2": {"field": "e"}}},
      {"data": {"name": "bars_F"}, "transform": [{"filter": "datum.e <= 15"}], "mark": {"type": "tick", "color": "#555", "thickness": 2, "size": 12},
       "encoding": {"x": {"field": "cat", "type": "nominal", "axis": {"orient": "top", "title": null, "labels": false, "ticks": false, "domainColor": "white", "domainWidth": 5, "zindex": 1}}, "xOffset": {"field": "grp", "type": "nominal"}, "y": {"field": "e", "type": "quantitative"}}},
      {"data": {"name": "br_Fl"}, "mark": {"type": "line", "color": "black", "strokeWidth": 2},
       "encoding": {"x": {"field": "cat", "type": "nominal", "axis": null}, "xOffset": {"field": "grp", "type": "nominal"}, "y": {"field": "y", "type": "quantitative"}, "detail": {"field": "cat"}, "order": {"field": "o"}}},
      {"data": {"name": "sig_Fl"}, "transform": [{"filter": "datum.t == '*'"}], "mark": {"type": "text", "fontSize": 34, "dy": 9, "baseline": "alphabetic", "color": "black"},
       "encoding": {"x": {"field": "cat", "type": "nominal", "axis": null}, "y": {"field": "y", "type": "quantitative"}, "text": {"field": "t"}}},
      {"data": {"name": "sig_Fl"}, "transform": [{"filter": "datum.t == 'ns'"}], "mark": {"type": "text", "fontSize": 30, "dy": -6, "baseline": "alphabetic", "color": "#444"},
       "encoding": {"x": {"field": "cat", "type": "nominal", "axis": null}, "y": {"field": "y", "type": "quantitative"}, "text": {"field": "t"}}}
    ]
  }
]
}
